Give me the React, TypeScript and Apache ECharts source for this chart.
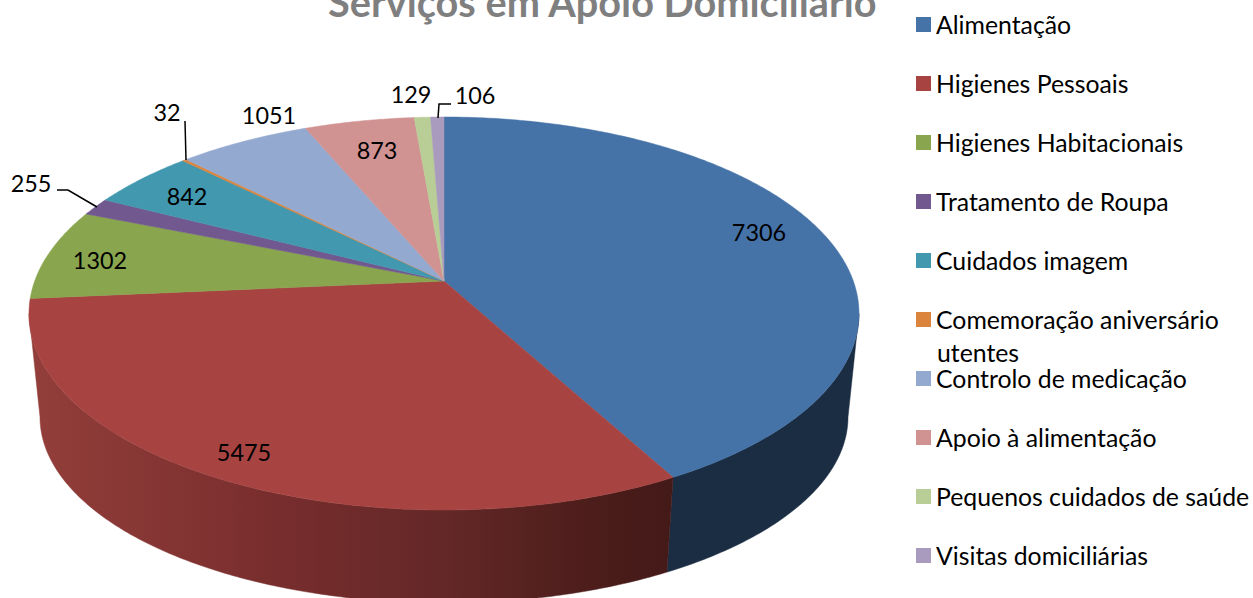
import React, { useEffect, useRef } from "react";
import * as echarts from "echarts";

const titleText = "Serviços em Apoio Domiciliário";
const categories = [
  "Alimentação",
  "Higienes Pessoais",
  "Higienes Habitacionais",
  "Tratamento de Roupa",
  "Cuidados imagem",
  "Comemoração aniversário",
  "Controlo de medicação",
  "Apoio à alimentação",
  "Pequenos cuidados de saúde",
  "Visitas domiciliárias",
];
const wrappedLegendLine = "utentes";
const values = [7306, 5475, 1302, 255, 842, 32, 1051, 873, 129, 106];
const colors = ["#4572A7", "#A74442", "#89A54E", "#71588F", "#4198AF", "#DB843D", "#93A9CF", "#D19392", "#B9CD96", "#A99BBD"];
const labelPositions = [[759, 232], [244, 452], [100, 260], [31, 183], [187, 196], [167, 112], [269, 115], [377, 150], [411, 94], [475, 95]];
const leaders: Record<number, number[][]> = {
  3: [[57, 190], [68, 190], [97, 207]],
  5: [[185, 121], [186, 160]],
  9: [[451, 104], [439, 104], [438, 118]],
};

const FONT = "Lato, sans-serif";
const TOTAL = values.reduce((a, b) => a + b, 0);
const CX = 444;
const K = 0.165;
const TOP = { ecy: 313.5, rx: 415, ry: 196.5 };
const BOTTOM = { ecy: 417, rx: 404, ry: 186 };
const WALL_MIN = Math.acos(-K);
const WALL_MAX = 2 * Math.PI - WALL_MIN;

function project(theta: number, e: { ecy: number; rx: number; ry: number }) {
  const u = Math.sin(theta);
  const v = Math.cos(theta);
  const w = 1 + K * v;
  const f = e.rx * Math.sqrt(1 - K * K);
  const g = e.ry * (1 - K * K);
  const apex = e.ecy - e.ry * K;
  return [CX + (f * u) / w, apex - (g * v) / w];
}

function arc(a: number, b: number, e: typeof TOP) {
  const n = Math.max(2, Math.ceil((b - a) / 0.01));
  const pts: number[][] = [];
  for (let i = 0; i <= n; i++) pts.push(project(a + ((b - a) * i) / n, e));
  return pts;
}

function wallFill(i: number) {
  if (i === 0) return "#1A2D43";
  if (i === 1)
    return new echarts.graphic.LinearGradient(30, 0, 670, 0, [
      { offset: 0, color: "#933E3A" },
      { offset: 0.42, color: "#752C2C" },
      { offset: 0.65, color: "#632827" },
      { offset: 0.9, color: "#4A1C1A" },
      { offset: 1, color: "#441A18" },
    ], true);
  return colors[i];
}

let running = 0;
const starts = values.map((v) => {
  const s = running;
  running += v;
  return s;
});

function renderItem(params: any, api: any) {
  const i = params.seriesIndex;
  const a = (api.value(0) / TOTAL) * 2 * Math.PI;
  const b = a + (api.value(1) / TOTAL) * 2 * Math.PI;
  const children: any[] = [];
  const wa = Math.max(a, WALL_MIN);
  const wb = Math.min(b, WALL_MAX);
  if (wb > wa) {
    const fill = wallFill(i);
    children.push({
      type: "polygon",
      shape: { points: [...arc(wa, wb, TOP), ...arc(wa, wb, BOTTOM).reverse()] },
      style: { fill, stroke: fill, lineWidth: 0.5 },
    });
  }
  children.push({
    type: "polygon",
    shape: { points: [[CX, TOP.ecy - TOP.ry * K], ...arc(a, b, TOP)] },
    style: { fill: colors[i], stroke: colors[i], lineWidth: 0.5 },
  });
  if (leaders[i]) {
    children.push({
      type: "polyline",
      z2: 50,
      shape: { points: leaders[i] },
      style: { fill: "none", stroke: "#000", lineWidth: 1.5 },
    });
  }
  const [lx, ly] = labelPositions[i];
  children.push({
    type: "text",
    z2: 60,
    style: {
      text: String(api.value(1)),
      x: lx,
      y: ly,
      fill: "#000",
      font: `23.4px ${FONT}`,
      align: "center",
      verticalAlign: "middle",
    },
  });
  return { type: "group", children };
}

export default function App() {
  const ref = useRef<HTMLDivElement>(null);
  useEffect(() => {
    const chart = echarts.init(ref.current!, null, { renderer: "svg" });
    chart.setOption({
      animation: false,
      backgroundColor: "#fff",
      title: {
        text: titleText,
        left: 328,
        top: -19,
        padding: 0,
        textStyle: { fontFamily: FONT, fontWeight: "bold", fontSize: 39.7, color: "#7F7F7F" },
      },
      legend: {
        orient: "vertical",
        left: 916,
        top: 12,
        padding: 0,
        itemWidth: 15,
        itemHeight: 15,
        itemGap: 34,
        icon: "rect",
        selectedMode: false,
        data: categories,
        textStyle: { fontFamily: FONT, fontSize: 24.8, color: "#000", lineHeight: 25 },
      },
      graphic: [
        {
          type: "text",
          style: {
            text: wrappedLegendLine,
            x: 937,
            y: 352,
            fill: "#000",
            font: `24.8px ${FONT}`,
            verticalAlign: "middle",
          },
        },
      ],
      series: categories.map((name, i) => ({
        type: "custom",
        name,
        coordinateSystem: "none",
        silent: true,
        clip: false,
        itemStyle: { color: colors[i] },
        renderItem,
        data: [[starts[i], values[i]]],
      })),
    });
    return () => chart.dispose();
  }, []);
  return <div ref={ref} style={{ position: "fixed", left: 0, top: 0, width: 1253, height: 598 }} />;
}
